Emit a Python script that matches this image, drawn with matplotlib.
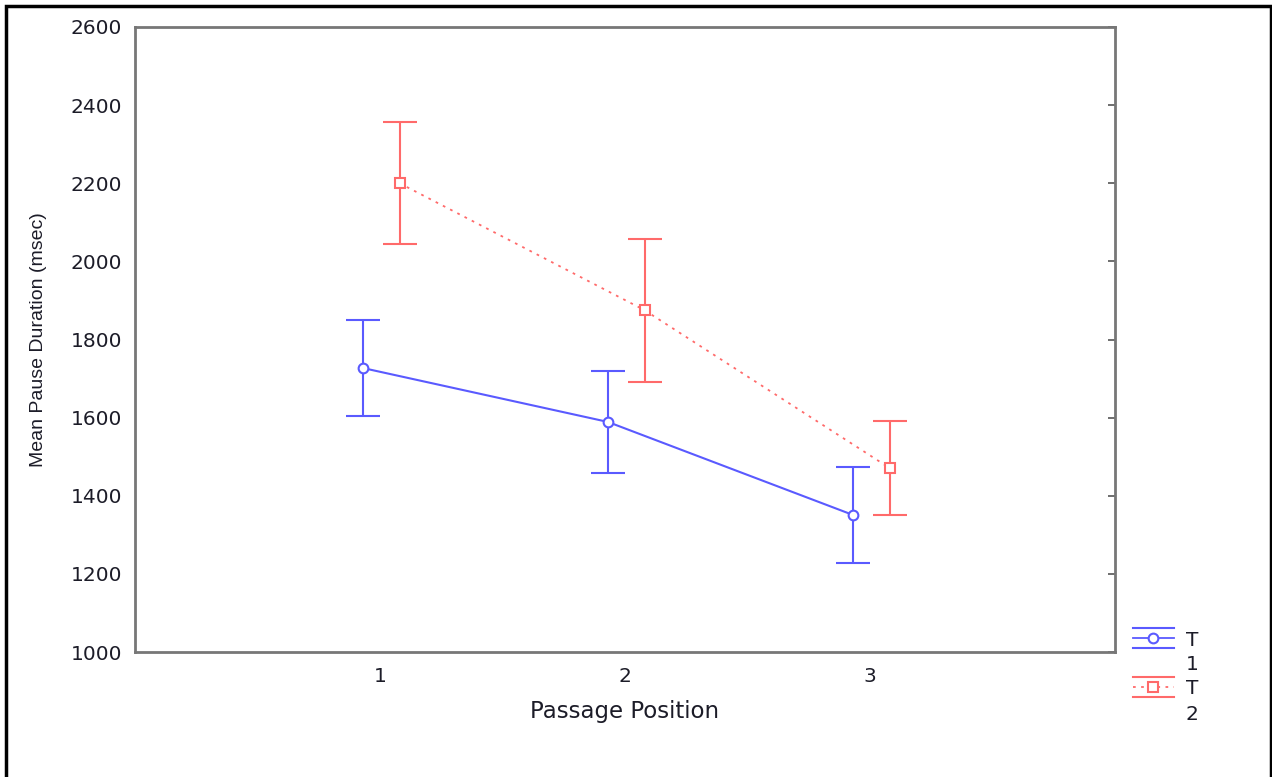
import matplotlib
matplotlib.use("Agg")
import matplotlib.pyplot as plt
from matplotlib.lines import Line2D
from matplotlib.patches import Rectangle
import numpy as np

plt.rcParams['font.family'] = ['DejaVu Sans']

positions = [1, 2, 3]
t1_mean = [1727, 1589, 1351]
t1_err = [122, 131, 122]
t2_mean = [2200, 1875, 1471]
t2_err = [156, 183, 120]
series_labels = [("T", "1"), ("T", "2")]
yticks = [1000, 1200, 1400, 1600, 1800, 2000, 2200, 2400, 2600]

W, H = 1272, 777
fig = plt.figure(figsize=(W / 100, H / 100), dpi=100)
ax = fig.add_axes([135 / W, 1 - 652 / H, (1115 - 135) / W, (652 - 27) / H])

blue = '#5a5aff'
red = '#ff6a6a'
txt = '#1c1c28'
x = np.array(positions, dtype=float)
ax.errorbar(x - 0.07, t1_mean, yerr=t1_err, color=blue, lw=1.5, elinewidth=1.5,
            capsize=12, capthick=1.5, marker='o', ms=7, mfc='white', mec=blue, mew=1.5,
            linestyle='-', zorder=3)
ax.errorbar(x + 0.08, t2_mean, yerr=t2_err, color=red, lw=1.3, elinewidth=1.5,
            capsize=12, capthick=1.5, marker='s', ms=7, mfc='white', mec=red, mew=1.5,
            linestyle=(0, (1.5, 3)), zorder=3)

ax.set_xlim(0, 4)
ax.set_ylim(1000, 2600)
ax.set_xticks(positions)
ax.set_xticklabels([str(p) for p in positions])
ax.set_yticks(yticks)
for s in ax.spines.values():
    s.set_color('#777777')
    s.set_linewidth(2)
ax.tick_params(axis='both', labelsize=14.5, length=0, labelcolor=txt)
ax.tick_params(axis='y', pad=9.4, left=False, right=True, direction='in', length=5,
               color='#555555', width=1.2)
ax.tick_params(axis='x', pad=10.8)
ax.set_xlabel("Passage Position", fontsize=16.5, color=txt)
ax.xaxis.set_label_coords(0.5, -(700 - 652) / 625)
ax.set_ylabel("Mean Pause Duration (msec)", fontsize=14, color=txt,
              family=['Liberation Sans', 'DejaVu Sans'])
ax.yaxis.set_label_coords(-(135 - 47) / 980, 0.5)

# Legend drawn manually
def leg_handle(y_mid, color, ls, marker):
    x0, x1 = 1133 / W, 1174 / W
    for dy in (-10, 10):
        fig.add_artist(Line2D([x0, x1], [1 - (y_mid + dy) / H] * 2, color=color, lw=1.5))
    fig.add_artist(Line2D([x0, x1], [1 - y_mid / H] * 2, color=color, lw=1.3, linestyle=ls))
    fig.add_artist(Line2D([1153 / W], [1 - y_mid / H], color=color, marker=marker, ms=7,
                          mfc='white', mec=color, mew=1.5))

leg_handle(638, blue, '-', 'o')
leg_handle(687, red, (0, (1.5, 3)), 's')
for (l1, l2), ym in zip(series_labels, (640, 689)):
    fig.text(1192 / W, 1 - ym / H, l1, fontsize=14.5, ha='center', va='center', color=txt)
    fig.text(1192 / W, 1 - (ym + 25) / H, l2, fontsize=14.5, ha='center', va='center',
             color=txt)

fig.add_artist(Rectangle((6 / W, -0.01), (1271 - 6) / W, 1.01 - 6 / H, fill=False,
                         edgecolor='black', lw=2.5, transform=fig.transFigure))

fig.savefig("out.png", dpi=100)
